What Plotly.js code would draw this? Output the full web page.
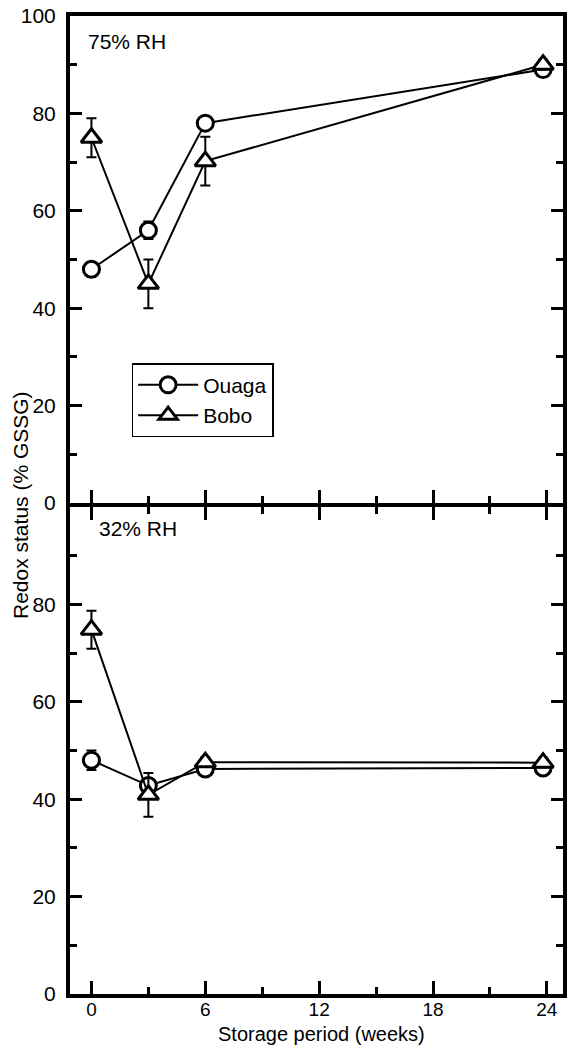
<!DOCTYPE html>
<html>
<head>
<meta charset="utf-8">
<script src="https://cdn.plot.ly/plotly-3.0.1.min.js"></script>
<style>html,body{margin:0;padding:0;background:#fff;}#chart{width:572px;height:1046px;}</style>
</head>
<body>
<div id="chart"></div>
<script>
// Storage period (weeks)
var weeks = [0, 3, 6, 23.8];

// 75% RH panel (top)
var rh75Ouaga = [48, 56, 78, 89];
var rh75OuagaErr = [1.5, 1.8, 1, 1];
var rh75Bobo = [75, 45, 70.2, 90];
var rh75BoboErr = [4, 5, 5, 1];

// 32% RH panel (bottom)
var rh32Ouaga = [48, 42.8, 46.2, 46.4];
var rh32OuagaErr = [2, 1, 1, 1];
var rh32Bobo = [74.8, 40.9, 47.6, 47.5];
var rh32BoboErr = [3.9, 4.5, 1, 1];

var seriesNames = ['Ouaga', 'Bobo'];
var panelLabels = ['75% RH', '32% RH'];
var xTitle = 'Storage period (weeks)';
var yTitle = 'Redox status (% GSSG)';
var xTickVals = [0, 6, 12, 18, 24];
var yTickValsTop = [0, 20, 40, 60, 80, 100];
var yTickTextTop = ['0', '20', '40', '60', '80', '100'];
var yTickValsBottom = [0, 20, 40, 60, 80, 100];
var yTickTextBottom = ['0', '20', '40', '60', '80', ''];

var FONT = '"Liberation Sans", Arial, Helvetica, sans-serif';

function makeTrace(y, err, name, symbol, xa, ya, showLeg) {
  return {
    x: weeks, y: y, name: name, type: 'scatter', mode: 'lines+markers',
    xaxis: xa, yaxis: ya, showlegend: showLeg,
    line: {color: '#000', width: 2},
    marker: {symbol: symbol, size: symbol === 'circle' ? 16 : 18, color: '#fff',
             line: {color: '#000', width: 3}},
    error_y: {type: 'data', array: err, visible: true, color: '#000', thickness: 2, width: 5}
  };
}

var data = [
  makeTrace(rh75Ouaga, rh75OuagaErr, seriesNames[0], 'circle', 'x2', 'y2', true),
  makeTrace(rh75Bobo, rh75BoboErr, seriesNames[1], 'triangle-up', 'x2', 'y2', true),
  makeTrace(rh32Ouaga, rh32OuagaErr, seriesNames[0], 'circle', 'x', 'y', false),
  makeTrace(rh32Bobo, rh32BoboErr, seriesNames[1], 'triangle-up', 'x', 'y', false)
];

var xRange = [-1.13, 24.85];

function yAxis(domain, tv, tt) {
  return {
    domain: domain, range: [0, 100], tickvals: tv, ticktext: tt,
    ticks: 'inside', ticklen: 12, tickwidth: 3, tickcolor: '#000',
    minor: {dtick: 10, tick0: 0, ticks: 'inside', ticklen: 7, tickwidth: 3, tickcolor: '#000', showgrid: false},
    showline: true, linewidth: 4, linecolor: '#000', mirror: 'ticks',
    showgrid: false, zeroline: false, fixedrange: true,
    ticklabelstandoff: 6,
    tickfont: {family: FONT, size: 21, color: '#000'}
  };
}

var layout = {
  width: 572, height: 1046,
  margin: {l: 70, r: 9, t: 16, b: 52},
  paper_bgcolor: '#fff', plot_bgcolor: '#fff',
  font: {family: FONT, size: 21, color: '#000'},
  xaxis: {
    anchor: 'y', domain: [0, 1], range: xRange,
    tickvals: xTickVals, ticks: 'inside', ticklen: 13, tickwidth: 3, tickcolor: '#000',
    minor: {dtick: 3, tick0: 0, ticks: 'inside', ticklen: 7, tickwidth: 3, tickcolor: '#000', showgrid: false},
    showline: true, linewidth: 4, linecolor: '#000', mirror: 'ticks',
    showgrid: false, zeroline: false, fixedrange: true,
    ticklabelstandoff: -5,
    tickfont: {family: FONT, size: 19, color: '#000'}
  },
  xaxis2: {
    anchor: 'y2', domain: [0, 1], range: xRange, matches: 'x',
    tickvals: xTickVals, ticks: 'inside', ticklen: 13, tickwidth: 3, tickcolor: '#000',
    minor: {dtick: 3, tick0: 0, ticks: 'inside', ticklen: 7, tickwidth: 3, tickcolor: '#000', showgrid: false},
    showline: true, linewidth: 4, linecolor: '#000', mirror: true,
    showticklabels: false, showgrid: false, zeroline: false, fixedrange: true
  },
  yaxis: yAxis([0, 0.498], yTickValsBottom, yTickTextBottom),
  yaxis2: yAxis([0.502, 1], yTickValsTop, yTickTextTop),
  showlegend: true,
  legend: {
    x: 0.125, y: 0.645, xanchor: 'left', yanchor: 'top',
    bgcolor: '#fff', bordercolor: '#000', borderwidth: 1.5,
    font: {family: FONT, size: 21, color: '#000'},
    itemwidth: 60, tracegroupgap: 0
  },
  annotations: [
    {text: panelLabels[0], xref: 'paper', yref: 'paper', x: 0.0325, y: 0.9737,
     xanchor: 'left', yanchor: 'middle', showarrow: false, font: {family: FONT, size: 21, color: '#000'}},
    {text: panelLabels[1], xref: 'paper', yref: 'paper', x: 0.0548, y: 0.4755,
     xanchor: 'left', yanchor: 'middle', showarrow: false, font: {family: FONT, size: 21, color: '#000'}},
    {text: yTitle, xref: 'paper', yref: 'paper', x: 0, y: 0.5,
     xshift: -50, textangle: -90, xanchor: 'center', yanchor: 'middle', showarrow: false,
     font: {family: FONT, size: 21, color: '#000'}},
    {text: xTitle, xref: 'paper', yref: 'paper', x: 0.51, y: 0,
     yshift: -40, xanchor: 'center', yanchor: 'middle', showarrow: false,
     font: {family: FONT, size: 20, color: '#000'}}
  ]
};

Plotly.newPlot('chart', data, layout, {displayModeBar: false, staticPlot: true});
</script>
</body>
</html>
